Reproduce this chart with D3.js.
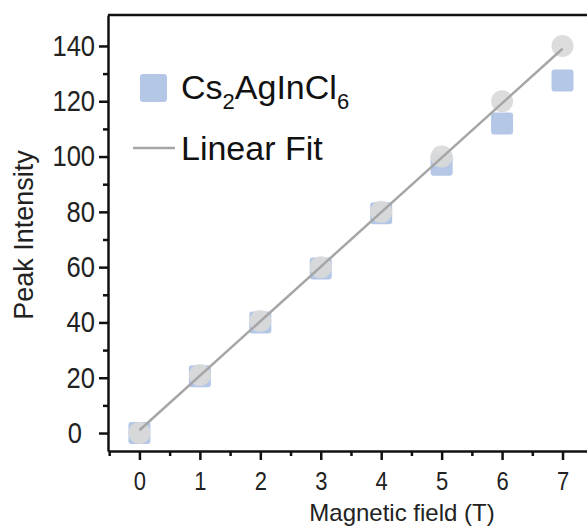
<!DOCTYPE html>
<html>
<head>
<meta charset="utf-8">
<script src="https://cdn.jsdelivr.net/npm/d3@7"></script>
<style>
  html, body { margin: 0; padding: 0; background: #fff; }
  svg { display: block; font-family: "Liberation Sans", Arial, sans-serif; }
</style>
</head>
<body>
<svg id="chart" width="587" height="528"></svg>
<script>
// ---- data ----
const fields = [0, 1, 2, 3, 4, 5, 6, 7];
const intensitySquares = [0, 20.5, 40, 59.5, 79.5, 97, 112, 127.5];   // Cs2AgInCl6 (blue squares)
const intensityCircles = [0, 21, 40.5, 60, 80, 100, 120, 140];        // grey circles
const fitX = [0, 7];
const fitY = [1, 139];
const xTicks = [0, 1, 2, 3, 4, 5, 6, 7];
const yTicks = [0, 20, 40, 60, 80, 100, 120, 140];

const svg = d3.select("#chart");

const x = d3.scaleLinear().domain([-0.52, 7.62]).range([108, 600]);
const y = d3.scaleLinear().domain([-6.5, 151.2]).range([451, 15]);

const axisColor = "#111";
const font = "'Liberation Sans', Arial, sans-serif";

// squeeze text horizontally around its anchor
function squeeze(sel, k) {
  sel.each(function () {
    const t = d3.select(this);
    const tx = +t.attr("x") || 0;
    t.attr("x", 0).attr("transform", `translate(${tx},0) scale(${k},1)`);
  });
}

// y minor ticks
const yMinor = d3.range(10, 150, 20);
svg.append("g")
  .attr("transform", "translate(108,0)")
  .call(d3.axisLeft(y).tickValues(yMinor).tickSize(5).tickFormat(""))
  .call(g => g.select(".domain").remove())
  .call(g => g.selectAll("line").attr("stroke", axisColor).attr("stroke-width", 2.5));

// y major axis
svg.append("g")
  .attr("transform", "translate(108,0)")
  .call(d3.axisLeft(y).tickValues(yTicks).tickSize(9).tickSizeOuter(0).tickPadding(4))
  .call(g => g.select(".domain").attr("stroke", axisColor).attr("stroke-width", 2.5))
  .call(g => g.selectAll("line").attr("stroke", axisColor).attr("stroke-width", 2.5))
  .call(g => g.selectAll("text").attr("font-size", 29).attr("fill", "#222").attr("font-family", font))
  .call(g => g.selectAll(".tick").filter(d => d === 0).select("text").attr("x", -26))
  .call(g => squeeze(g.selectAll("text"), 0.88));

// x minor ticks
const xMinor = d3.range(-0.5, 7.6, 1);
svg.append("g")
  .attr("transform", "translate(0,451)")
  .call(d3.axisBottom(x).tickValues(xMinor).tickSize(5).tickFormat(""))
  .call(g => g.select(".domain").remove())
  .call(g => g.selectAll("line").attr("stroke", axisColor).attr("stroke-width", 2.5));

// x major axis
svg.append("g")
  .attr("transform", "translate(0,451)")
  .call(d3.axisBottom(x).tickValues(xTicks).tickSize(9).tickSizeOuter(0).tickPadding(12))
  .call(g => g.select(".domain").attr("stroke", axisColor).attr("stroke-width", 2.5))
  .call(g => g.selectAll("line").attr("stroke", axisColor).attr("stroke-width", 2.5))
  .call(g => g.selectAll("text").attr("font-size", 25).attr("fill", "#222").attr("font-family", font))
  .call(g => squeeze(g.selectAll("text"), 0.88));

// top frame line
svg.append("line")
  .attr("x1", x.range()[0]).attr("x2", x.range()[1])
  .attr("y1", y.range()[1]).attr("y2", y.range()[1])
  .attr("stroke", axisColor).attr("stroke-width", 2.5);

// axis titles
svg.append("text")
  .attr("x", 402).attr("y", 521)
  .attr("text-anchor", "middle")
  .attr("font-size", 24).attr("fill", "#222")
  .text("Magnetic field (T)");

svg.append("text")
  .attr("transform", "translate(33,235) rotate(-90)")
  .attr("text-anchor", "middle")
  .attr("font-size", 27).attr("fill", "#222")
  .text("Peak Intensity");

// markers: blue squares
const sq = 22;
svg.append("g").selectAll("rect")
  .data(fields)
  .join("rect")
  .attr("x", d => x(d) - sq / 2)
  .attr("y", (d, i) => y(intensitySquares[i]) - sq / 2)
  .attr("width", sq).attr("height", sq)
  .attr("rx", 3)
  .attr("fill", "#b4c7e7");

// grey circles
svg.append("g").selectAll("circle")
  .data(fields)
  .join("circle")
  .attr("cx", d => x(d))
  .attr("cy", (d, i) => y(intensityCircles[i]))
  .attr("r", 11)
  .attr("fill", "#d9d9d9")
  .attr("fill-opacity", 0.92);

// linear fit
svg.append("path")
  .datum(fitX.map((d, i) => [d, fitY[i]]))
  .attr("d", d3.line().x(d => x(d[0])).y(d => y(d[1])))
  .attr("fill", "none")
  .attr("stroke", "#a6a6a6")
  .attr("stroke-width", 2.5);

// legend
const lg = svg.append("g");
lg.append("rect")
  .attr("x", 140).attr("y", 74).attr("width", 27).attr("height", 28).attr("rx", 3)
  .attr("fill", "#b4c7e7");
const t1 = lg.append("text")
  .attr("x", 181).attr("y", 99)
  .attr("font-size", 34).attr("fill", "#111");
t1.append("tspan").text("Cs");
t1.append("tspan").attr("font-size", 22).attr("dy", 10).text("2");
t1.append("tspan").attr("dy", -10).text("AgInCl");
t1.append("tspan").attr("font-size", 22).attr("dy", 10).text("6");

lg.append("line")
  .attr("x1", 133).attr("x2", 175).attr("y1", 148).attr("y2", 148)
  .attr("stroke", "#a6a6a6").attr("stroke-width", 2.5);
lg.append("text")
  .attr("x", 181).attr("y", 160)
  .attr("font-size", 34).attr("fill", "#111")
  .text("Linear Fit");
</script>
</body>
</html>
